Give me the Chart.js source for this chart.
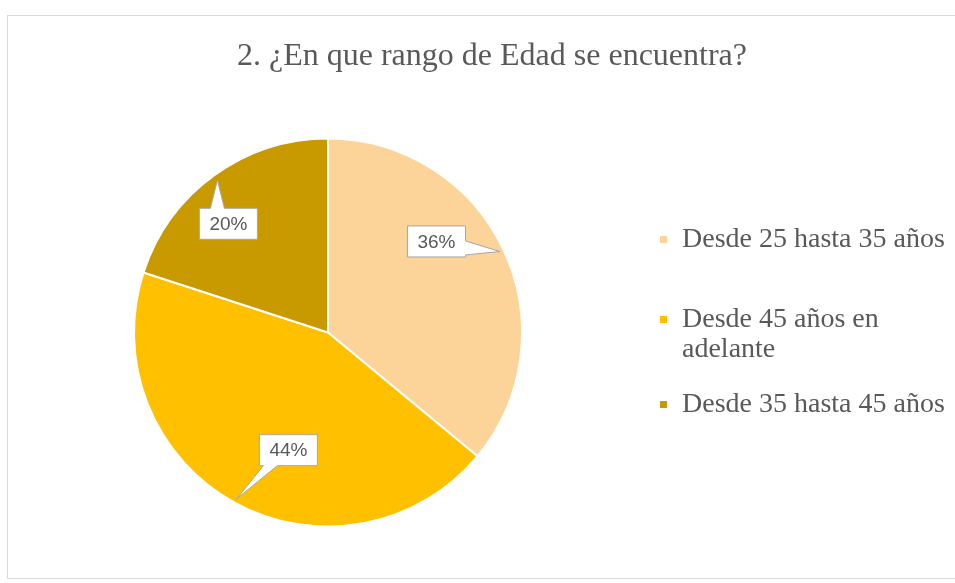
<!DOCTYPE html>
<html>
<head>
<meta charset="utf-8">
<script src="https://cdn.jsdelivr.net/npm/chart.js@4"></script>
<style>
html,body{margin:0;padding:0;background:#fff;}
#wrap{width:955px;height:583px;position:relative;}
</style>
</head>
<body>
<div id="wrap"><canvas id="edad"></canvas></div>
<script>
// 2. rango de edad
let titulo='2. ¿En que rango de Edad se encuentra?';
let rangos=['Desde 25 hasta 35 años','Desde 45 años en adelante','Desde 35 hasta 45 años'];
let porcentajes=[36,44,20];
let colores=['#FCD49A','#FFC000','#C89A00'];

// where each callout box sits: angle shift (deg) and distance (fraction of radius)
let cajaGiro=[-14.8,-10.2,-6.5];
let cajaDist=[0.73,0.64,0.76];
let puntaDist=[0.98,0.98,0.97];
// legend rows (baseline of first line)
let leyendaY=[247,327,412];

function wrapText(ctx,text,maxW){
  let words=text.split(' '),lines=[],cur='';
  words.forEach(w=>{
    let t=cur?cur+' '+w:w;
    if(ctx.measureText(t).width>maxW && cur){lines.push(cur);cur=w;}
    else cur=t;
  });
  if(cur) lines.push(cur);
  return lines;
}

function callout(ctx,cx,cy,tx,ty,text){
  ctx.font='19px "Liberation Sans", Arial, sans-serif';
  let w=ctx.measureText(text).width+20, h=31;
  let l=cx-w/2,r=cx+w/2,t=cy-h/2,b=cy+h/2;
  let dx=(tx-cx)/(w/2), dy=(ty-cy)/(h/2);
  let pts=[],bw=7;
  let clamp=(v,a,z)=>Math.max(a,Math.min(z,v));
  if(Math.abs(dx)>Math.abs(dy)){
    let by=clamp(ty,t+bw+2,b-bw-2);
    if(dx>0) pts=[[l,t],[r,t],[r,by-bw],[tx,ty],[r,by+bw],[r,b],[l,b]];
    else pts=[[l,t],[r,t],[r,b],[l,b],[l,by+bw],[tx,ty],[l,by-bw]];
  }else{
    let bx=clamp(tx,l+bw+4,r-bw-4);
    if(dy<0) pts=[[l,t],[bx-bw,t],[tx,ty],[bx+bw,t],[r,t],[r,b],[l,b]];
    else pts=[[l,t],[r,t],[r,b],[bx+bw,b],[tx,ty],[bx-bw,b],[l,b]];
  }
  ctx.beginPath();
  pts.forEach((p,i)=>i?ctx.lineTo(p[0],p[1]):ctx.moveTo(p[0],p[1]));
  ctx.closePath();
  ctx.fillStyle='#ffffff';
  ctx.fill();
  ctx.strokeStyle='#a6a6a6';
  ctx.lineWidth=1;
  ctx.stroke();
  ctx.fillStyle='#595959';
  ctx.textAlign='center';
  ctx.textBaseline='middle';
  ctx.fillText(text,cx,cy+1);
}

const marco={
  id:'marco',
  beforeDraw(chart){
    const ctx=chart.ctx;
    ctx.save();
    ctx.fillStyle='#ffffff';
    ctx.fillRect(0,0,chart.width,chart.height);
    ctx.strokeStyle='#d9d9d9';
    ctx.lineWidth=1;
    ctx.strokeRect(7.5,15.5,chart.width,563);
    // title
    ctx.fillStyle='#595959';
    ctx.font='32px "Liberation Serif", "Times New Roman", serif';
    ctx.textAlign='center';
    ctx.textBaseline='alphabetic';
    ctx.fillText(titulo,492,65);
    ctx.restore();
  },
  afterDatasetsDraw(chart){
    const ctx=chart.ctx;
    const arcs=chart.getDatasetMeta(0).data;
    ctx.save();
    arcs.forEach((a,i)=>{
      let mid=(a.startAngle+a.endAngle)/2;
      let ang=mid+cajaGiro[i]*Math.PI/180;
      let cx=a.x+Math.cos(ang)*a.outerRadius*cajaDist[i];
      let cy=a.y+Math.sin(ang)*a.outerRadius*cajaDist[i];
      let tx=a.x+Math.cos(mid)*a.outerRadius*puntaDist[i];
      let ty=a.y+Math.sin(mid)*a.outerRadius*puntaDist[i];
      callout(ctx,cx,cy,tx,ty,porcentajes[i]+'%');
    });
    // legend
    ctx.font='28px "Liberation Serif", "Times New Roman", serif';
    ctx.textAlign='left';
    ctx.textBaseline='alphabetic';
    rangos.forEach((txt,i)=>{
      let y=leyendaY[i];
      ctx.fillStyle=colores[i];
      ctx.fillRect(660,y-11,7,7);
      ctx.fillStyle='#595959';
      wrapText(ctx,txt,270).forEach((ln,k)=>ctx.fillText(ln,682,y+k*30));
    });
    ctx.restore();
  }
};

new Chart(document.getElementById('edad'),{
  type:'pie',
  data:{
    labels:rangos,
    datasets:[{
      data:porcentajes,
      backgroundColor:colores,
      borderColor:'#ffffff',
      borderWidth:2
    }]
  },
  options:{
    responsive:true,
    maintainAspectRatio:false,
    animation:false,
    layout:{padding:{left:133,right:432,top:137,bottom:55}},
    plugins:{
      legend:{display:false},
      tooltip:{enabled:false},
      title:{display:false}
    }
  },
  plugins:[marco]
});
</script>
</body>
</html>
